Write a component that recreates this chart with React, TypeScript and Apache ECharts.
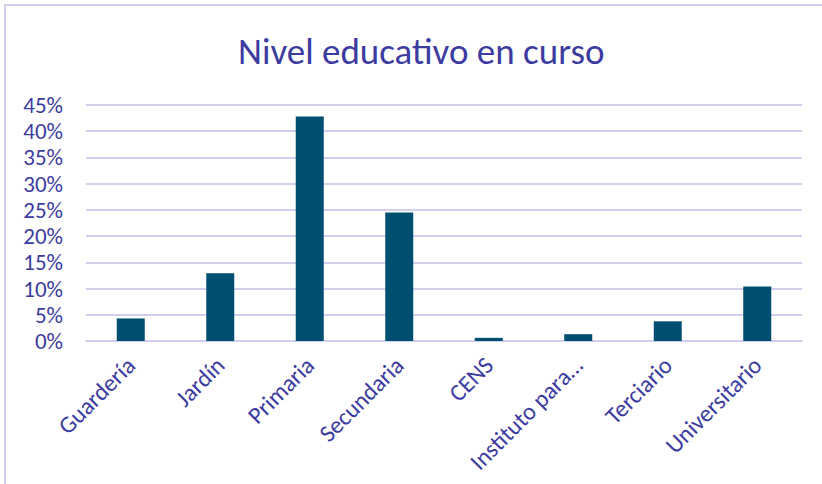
import React, { useEffect, useRef } from "react";
import * as echarts from "echarts";

const categories = ["Guardería", "Jardín", "Primaria", "Secundaria", "CENS", "Instituto para…", "Terciario", "Universitario"];
const values = [4.3, 12.9, 42.8, 24.5, 0.6, 1.3, 3.75, 10.4];
const yTicks = { min: 0, max: 45, interval: 5 };
const titleText = "Nivel educativo en curso";

const TEXT = "#3c3ca0";
const GRID = "#d2cef0";
const BAR = "#004f71";
const FONT = "Carlito, 'Open Sans', sans-serif";

export default function App() {
  const ref = useRef<HTMLDivElement>(null);
  useEffect(() => {
    const chart = echarts.init(ref.current!, undefined, { renderer: "svg" });
    chart.setOption({
      animation: false,
      backgroundColor: "#ffffff",
      title: {
        text: titleText,
        left: 233,
        top: 28,
        textStyle: { color: TEXT, fontFamily: FONT, fontSize: 37, fontWeight: "normal" },
      },
      graphic: [
        {
          type: "rect",
          shape: { x: 5, y: 5, width: 900, height: 600 },
          style: { fill: "none", stroke: GRID, lineWidth: 2 },
          silent: true,
        },
      ],
      grid: { left: 86, right: 20, top: 105, bottom: 143 },
      xAxis: {
        type: "category",
        data: categories,
        axisLine: { show: true, lineStyle: { color: GRID, width: 2 } },
        axisTick: { show: false },
        axisLabel: {
          interval: 0,
          rotate: 45,
          margin: 20,
          color: TEXT,
          fontFamily: FONT,
          fontSize: 24,
        },
      },
      yAxis: {
        type: "value",
        min: yTicks.min,
        max: yTicks.max,
        interval: yTicks.interval,
        axisLine: { show: false },
        axisTick: { show: false },
        splitLine: { lineStyle: { color: GRID, width: 2 } },
        axisLabel: {
          formatter: "{value}%",
          margin: 23,
          color: TEXT,
          fontFamily: FONT,
          fontSize: 23,
        },
      },
      series: [
        {
          type: "bar",
          data: values,
          barWidth: 28,
          itemStyle: { color: BAR },
        },
      ],
    });
    return () => chart.dispose();
  }, []);
  return <div ref={ref} style={{ position: "fixed", left: 0, top: 0, width: 822, height: 484 }} />;
}
